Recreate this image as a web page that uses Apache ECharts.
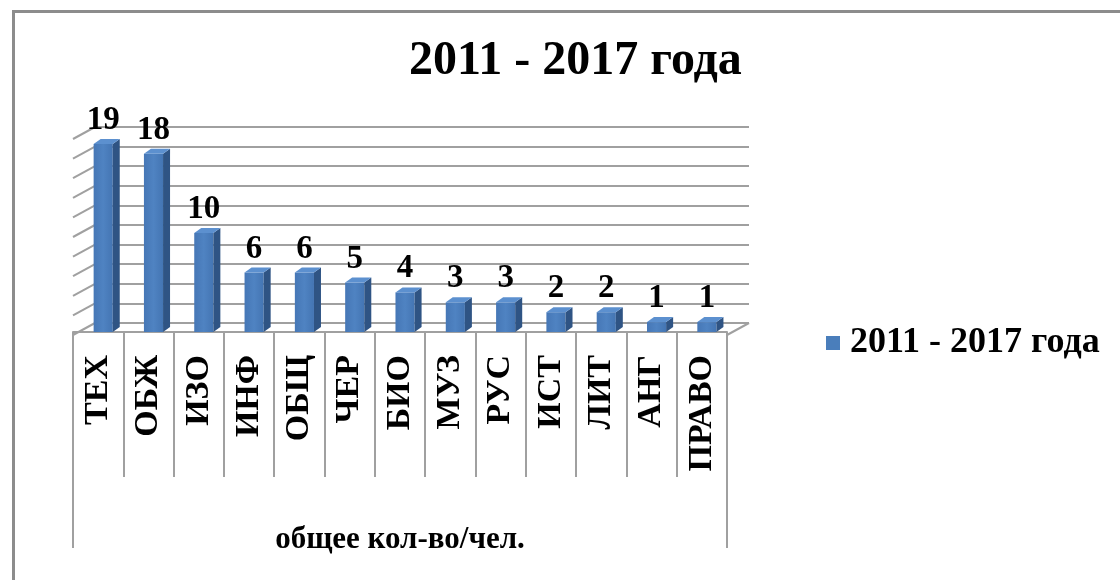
<!DOCTYPE html>
<html>
<head>
<meta charset="utf-8">
<script src="https://cdn.jsdelivr.net/npm/echarts@6/dist/echarts.min.js"></script>
<style>
  html, body { margin: 0; padding: 0; background: #fff; }
  #chart { width: 1120px; height: 580px; }
</style>
</head>
<body>
<div id="chart"></div>
<script>
// предметы
const categories = ['ТЕХ', 'ОБЖ', 'ИЗО', 'ИНФ', 'ОБЩ', 'ЧЕР', 'БИО', 'МУЗ', 'РУС', 'ИСТ', 'ЛИТ', 'АНГ', 'ПРАВО']
// общее кол-во/чел.
const values = [19, 18, 10, 6, 6, 5, 4, 3, 3, 2, 2, 1, 1]
const seriesName = '2011 - 2017 года'
const axisName = 'общее кол-во/чел.'
// деления задней стенки
const wallTicks = [0, 2, 4, 6, 8, 10, 12, 14, 16, 18, 20]

const SERIF = '"Liberation Serif", "Times New Roman", serif'
const GRAY = '#a0a0a0'
// глубина "3D": от передней плоскости к задней стенке
const DX = 22
const DY = 12

const chart = echarts.init(document.getElementById('chart'))

const option = {
  animation: false,
  backgroundColor: '#fff',
  title: {
    text: seriesName,
    left: 404,
    top: 33,
    textStyle: {fontFamily: SERIF, fontWeight: 'bold', fontSize: 48, color: '#000'}
  },
  legend: {
    data: [seriesName],
    left: 821,
    top: 320,
    icon: 'rect',
    itemWidth: 14,
    itemHeight: 14,
    textStyle: {fontFamily: SERIF, fontWeight: 'bold', fontSize: 36, color: '#000', padding: [0, 0, 0, 5]}
  },
  grid: [
    // передняя плоскость (столбцы, подписи)
    {left: 73, top: 134, width: 654, height: 198},
    // задняя стенка
    {left: 95, top: 127, width: 654, height: 196}
  ],
  xAxis: [
    {
      gridIndex: 0,
      type: 'category',
      data: categories,
      offset: 3,
      axisLine: {lineStyle: {color: GRAY, width: 2}},
      axisTick: {show: true, length: 145, lineStyle: {color: GRAY, width: 2}},
      axisLabel: {
        rotate: 90,
        margin: 20,
        interval: 0,
        fontFamily: SERIF,
        fontWeight: 'bold',
        fontSize: 34,
        color: '#000'
      },
      name: axisName,
      nameLocation: 'middle',
      nameGap: 189,
      nameTextStyle: {fontFamily: SERIF, fontWeight: 'bold', fontSize: 31, color: '#000'}
    },
    {gridIndex: 1, type: 'category', data: categories, show: false}
  ],
  yAxis: [
    {gridIndex: 0, type: 'value', min: 0, max: 20, interval: 2, show: false, splitLine: {show: false}},
    {
      gridIndex: 1,
      type: 'value',
      min: 0,
      max: 20,
      interval: 2,
      axisLine: {show: false},
      axisTick: {show: false},
      axisLabel: {show: false},
      splitLine: {show: true, lineStyle: {color: GRAY, width: 2}}
    }
  ],
  series: [
    // косые деления слева и пол
    {
      type: 'custom',
      xAxisIndex: 1,
      yAxisIndex: 1,
      silent: true,
      data: wallTicks.map(v => [0, v]),
      renderItem(params, api) {
        const cs = params.coordSys
        const y = api.coord([0, api.value(1)])[1]
        const children = [{
          type: 'line',
          shape: {x1: cs.x - DX, y1: y + DY, x2: cs.x, y2: y},
          style: {stroke: GRAY, lineWidth: 2}
        }]
        if (api.value(1) === 0) {
          children.push({
            type: 'line',
            shape: {x1: cs.x + cs.width, y1: y, x2: cs.x + cs.width - DX, y2: y + DY},
            style: {stroke: GRAY, lineWidth: 2}
          })
        }
        return {type: 'group', children}
      }
    },
    // столбцы
    {
      type: 'custom',
      name: seriesName,
      xAxisIndex: 0,
      yAxisIndex: 0,
      itemStyle: {color: '#4a7ebb'},
      data: values.map((v, i) => [i, v]),
      renderItem(params, api) {
        const i = api.value(0)
        const v = api.value(1)
        const base = api.coord([i, 0])
        const top = api.coord([i, v])
        const band = api.size([1, 0])[0]
        const w = band * 0.38
        const x0 = base[0] - band * 0.09
        const y0 = base[1]
        const y1 = top[1]
        const d = 7
        const e = 5
        return {
          type: 'group',
          children: [
            {
              type: 'rect',
              shape: {x: x0, y: y1, width: w, height: y0 - y1},
              style: {
                fill: new echarts.graphic.LinearGradient(0, 0, 1, 0, [
                  {offset: 0, color: '#4677b6'},
                  {offset: 0.5, color: '#4f83c2'},
                  {offset: 1, color: '#4475b3'}
                ])
              }
            },
            {
              type: 'polygon',
              shape: {points: [[x0 + w, y0], [x0 + w, y1], [x0 + w + d, y1 - e], [x0 + w + d, y0 - e]]},
              style: {fill: '#2f5484'}
            },
            {
              type: 'polygon',
              shape: {points: [[x0, y1], [x0 + w, y1], [x0 + w + d, y1 - e], [x0 + d, y1 - e]]},
              style: {fill: '#5c90cf'}
            },
            {
              type: 'text',
              style: {
                text: String(v),
                x: x0 + w / 2,
                y: y1 - 7,
                align: 'center',
                verticalAlign: 'bottom',
                fontFamily: SERIF,
                fontWeight: 'bold',
                fontSize: 33,
                fill: '#000'
              }
            }
          ]
        }
      }
    }
  ],
  graphic: [
    // рамка диаграммы
    {type: 'rect', left: 11, top: 9, shape: {width: 1120, height: 580}, style: {fill: 'none', stroke: '#8c8c8c', lineWidth: 3}},
    // внешние линии области подписей
    {type: 'line', shape: {x1: 73, y1: 335, x2: 73, y2: 548}, style: {stroke: GRAY, lineWidth: 2}},
    {type: 'line', shape: {x1: 727, y1: 335, x2: 727, y2: 548}, style: {stroke: GRAY, lineWidth: 2}}
  ]
}

chart.setOption(option)
</script>
</body>
</html>
